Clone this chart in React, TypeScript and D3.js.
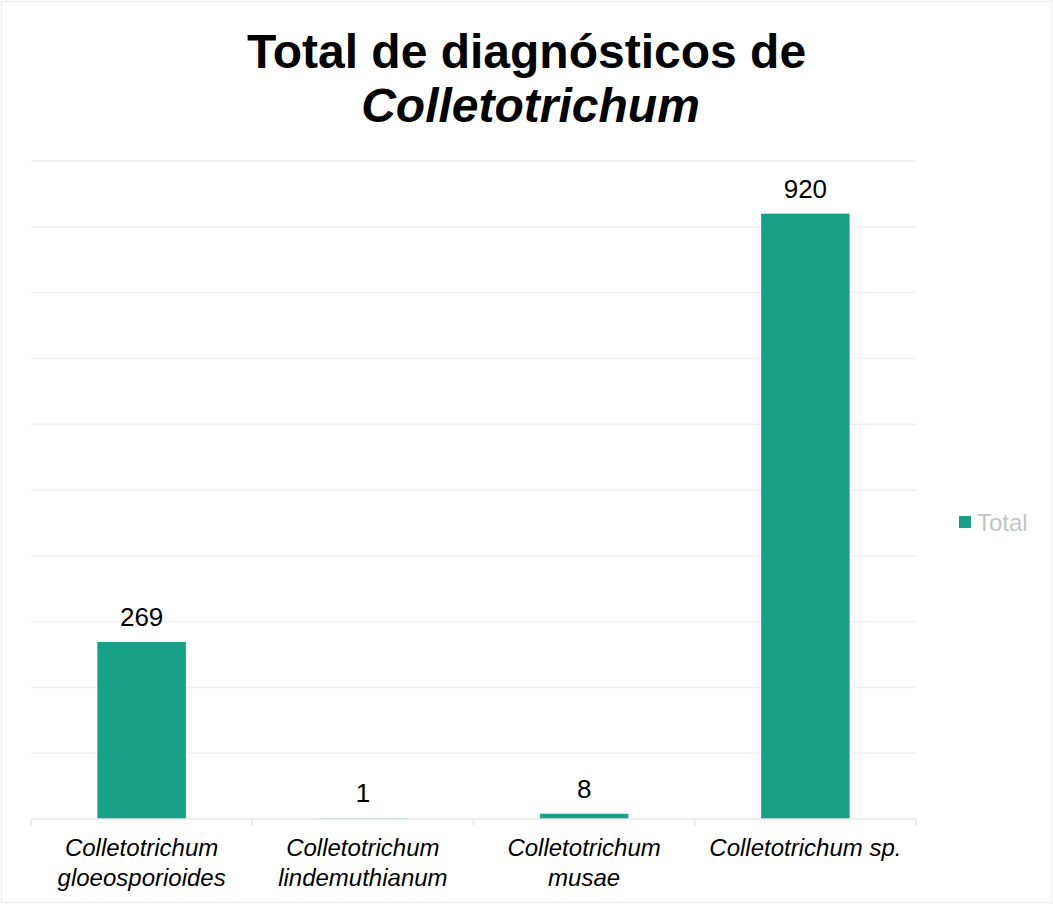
import React from 'react';
import * as d3 from 'd3';

// chart data
const categories = ['gloeosporioides', 'lindemuthianum', 'musae', 'sp.'];
const categoryLines = [
    ['Colletotrichum', 'gloeosporioides'],
    ['Colletotrichum', 'lindemuthianum'],
    ['Colletotrichum', 'musae'],
    ['Colletotrichum sp.'],
];
const totals = [269, 1, 8, 920];
const gridTicks = [0, 100, 200, 300, 400, 500, 600, 700, 800, 900, 1000];

const width = 1053;
const height = 905;
const barColor = '#18a187';
const gridColor = '#eef1f0';
const font = '"Liberation Sans", Arial, sans-serif';

export default function App() {
    // set the plot area
    const left = 31;
    const right = 916;
    const bottom = 819;
    const top = 161;

    const x = d3.scaleBand<string>()
        .domain(categories)
        .range([left, right])
        .paddingInner(0.6)
        .paddingOuter(0.3);

    const y = d3.scaleLinear()
        .domain([0, 1000])
        .range([bottom, top]);

    const step = x.step();
    // boundaries between categories for the small ticks
    const boundaries = d3.range(categories.length + 1).map(i => left + i * step);

    return (
        <svg width={width} height={height} style={{ position: 'absolute', left: 0, top: 0, background: '#fff' }}>
            <rect x={1.5} y={1.5} width={width - 3} height={height - 4} fill="#fff" stroke="#eceeed" strokeWidth={1.5} />

            {/* title */}
            <text x={width / 2} y={68} textAnchor="middle" fontFamily={font} fontWeight="bold" fontSize={48} fill="#000">
                Total de diagnósticos de
            </text>
            <text x={width / 2 + 4} y={122} textAnchor="middle" fontFamily={font} fontWeight="bold" fontStyle="italic" fontSize={48} fill="#000">
                Colletotrichum
            </text>

            {/* gridlines */}
            {gridTicks.filter(t => t > 0).map(t => (
                <line key={t} x1={left} x2={right} y1={y(t)} y2={y(t)} stroke={gridColor} strokeWidth={1.5} />
            ))}

            {/* bars */}
            {categories.map((c, i) => (
                <rect key={c} x={x(c)} y={y(totals[i])} width={x.bandwidth()} height={bottom - y(totals[i])} fill={barColor} />
            ))}

            {/* value labels */}
            {categories.map((c, i) => (
                <text key={c} x={(x(c) as number) + x.bandwidth() / 2} y={y(totals[i]) - 16} textAnchor="middle"
                      fontFamily={font} fontSize={26} fill="#000">
                    {totals[i]}
                </text>
            ))}

            {/* x axis */}
            <line x1={left} x2={right} y1={bottom} y2={bottom} stroke="#e3e7e6" strokeWidth={1.5} />
            {boundaries.map((b, i) => (
                <line key={i} x1={b} x2={b} y1={bottom} y2={bottom + 7} stroke="#e3e7e6" strokeWidth={1.5} />
            ))}
            {categories.map((c, i) => (
                <text key={c} x={(x(c) as number) + x.bandwidth() / 2} textAnchor="middle"
                      fontFamily={font} fontStyle="italic" fontSize={24} fill="#000">
                    {categoryLines[i].map((l, j) => (
                        <tspan key={j} x={(x(c) as number) + x.bandwidth() / 2} y={856 + j * 30}>{l}</tspan>
                    ))}
                </text>
            ))}

            {/* legend */}
            <rect x={959} y={516} width={12} height={12} fill={barColor} />
            <text x={977} y={531} fontFamily={font} fontSize={24} fill="#bfc6c5">Total</text>
        </svg>
    );
}
